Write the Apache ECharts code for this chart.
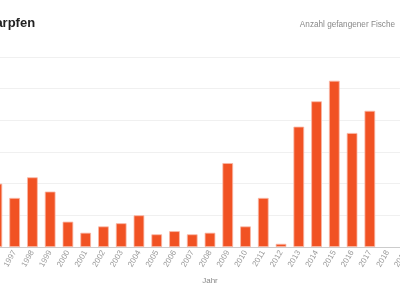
<!DOCTYPE html>
<html>
<head>
<meta charset="utf-8">
<script src="https://cdn.jsdelivr.net/npm/echarts@6/dist/echarts.min.js"></script>
<style>
    html, body { margin: 0; padding: 0; background: #fff; overflow: hidden; }
    #wrap { position: relative; width: 400px; height: 284px; overflow: hidden; }
    #chart { position: absolute; left: -60px; top: 0; width: 520px; height: 284px; }
</style>
</head>
<body>
<div id="wrap"><div id="chart"></div></div>
<script>
// Karpfen, Anzahl gefangener Fische je Jahr
var years = ['1996','1997','1998','1999','2000','2001','2002','2003','2004','2005',
             '2006','2007','2008','2009','2010','2011','2012','2013','2014','2015',
             '2016','2017','2018','2019','2020'];
var fish = [40, 31, 44, 35, 16, 9, 13, 15, 20, 8,
            10, 8, 9, 53, 13, 31, 2, 76, 92, 105,
            72, 86, null, null, null];
var seriesName = 'Anzahl gefangener Fische';

var chart = echarts.init(document.getElementById('chart'));
var option = {
    animation: false,
    textStyle: { fontFamily: 'Liberation Sans, Arial, sans-serif' },
    title: {
        text: 'Karpfen',
        left: 41,
        top: 12,
        textStyle: { fontSize: 13, fontWeight: 'bold', color: '#222' }
    },
    legend: {
        data: [seriesName],
        icon: 'none',
        itemWidth: 0,
        itemGap: 0,
        right: 60,
        top: 13,
        textStyle: { fontSize: 8.2, color: '#888' }
    },
    grid: {
        left: 48,
        right: 28,
        top: 57,
        bottom: 37,
        outerBoundsMode: 'none'
    },
    xAxis: {
        type: 'category',
        data: years,
        name: 'Jahr',
        nameLocation: 'middle',
        nameGap: 30,
        nameTextStyle: { fontSize: 8, color: '#888' },
        axisLine: { lineStyle: { color: '#ccc' } },
        axisTick: { show: false },
        axisLabel: { rotate: 60, interval: 0, fontSize: 8, color: '#999', margin: 4 }
    },
    yAxis: {
        type: 'value',
        min: 0,
        max: 120,
        interval: 20,
        axisLabel: { show: false },
        splitLine: { lineStyle: { color: '#f0f0f0' } }
    },
    series: [{
        name: seriesName,
        type: 'bar',
        data: fish,
        barWidth: '60%',
        itemStyle: {
            color: '#F15223',
            borderColor: '#f9b8a6',
            borderWidth: 0.8
        }
    }]
};
chart.setOption(option);
</script>
</body>
</html>
